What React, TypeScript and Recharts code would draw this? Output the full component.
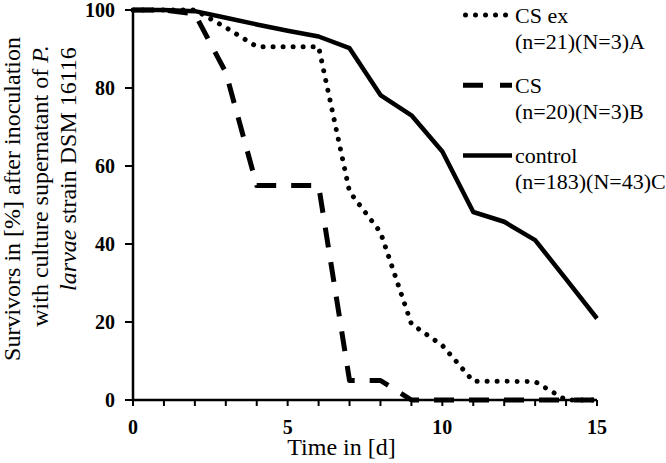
import React from 'react';
import { LineChart, Line, XAxis, YAxis, Legend } from 'recharts';

const days = [0, 1, 2, 3, 4, 5, 6, 7, 8, 9, 10, 11, 12, 13, 14, 15];
const csExValues = [100, 100, 100, 95.5, 90.6, 90.6, 90.6, 53.4, 43, 19.5, 14, 4.8, 4.8, 4.7, 0, 0];
const csValues = [100, 100, 99, 84, 55, 55, 55, 5, 5, 0, 0, 0, 0, 0, 0, 0];
const controlValues = [100, 100, 99.7, 98, 96.3, 94.7, 93.2, 90.2, 78.2, 73, 63.7, 48.2, 45.7, 41, 31, 20.9];

const seriesKeys = ['csEx', 'cs', 'control'];
const seriesNames = ['CS ex', 'CS', 'control'];
const seriesNotes = ['(n=21)(N=3)A', '(n=20)(N=3)B', '(n=183)(N=43)C'];

const xTicks = [0, 1, 2, 3, 4, 5, 6, 7, 8, 9, 10, 11, 12, 13, 14, 15];
const xLabelTicks = [0, 5, 10, 15];
const yTicks = [0, 20, 40, 60, 80, 100];

const data = days.map((d, i) => ({
  day: d,
  csEx: csExValues[i],
  cs: csValues[i],
  control: controlValues[i],
}));

const FONT = 'Liberation Serif';

const lineStyles: Record<string, { dash?: string; legendDash?: string; width: number; cap: 'round' | 'butt' }> = {
  csEx: { dash: '0.01 10', legendDash: '0.01 10', width: 5, cap: 'round' },
  cs: { dash: '20 15', legendDash: '20 17', width: 5, cap: 'butt' },
  control: { dash: undefined, legendDash: undefined, width: 4.5, cap: 'butt' },
};

const txt = (size: number, extra: React.CSSProperties = {}): React.CSSProperties => ({
  fontFamily: FONT,
  fontSize: size,
  ...extra,
});

const YTitle = () => (
  <g fill="#000">
    <text x={19.5} y={199} textAnchor="middle" transform="rotate(-90, 19.5, 199)" style={txt(24)}>
      Survivors in [%] after inoculation
    </text>
    <text x={47.5} y={186} textAnchor="middle" transform="rotate(-90, 47.5, 186)" style={txt(24)}>
      with culture supernatant of <tspan style={{ fontStyle: 'italic' }}>P.</tspan>
    </text>
    <text x={76} y={169} textAnchor="middle" transform="rotate(-90, 76, 169)" style={txt(24)}>
      <tspan style={{ fontStyle: 'italic' }}>larvae</tspan> strain DSM 16116
    </text>
  </g>
);

const XTitle = () => (
  <text x={341.5} y={455} textAnchor="middle" fill="#000" style={txt(24)}>
    Time in [d]
  </text>
);

const renderLegend = (props: any) => {
  const payload: any[] = props.payload || [];
  return (
    <svg width={211} height={200} style={{ display: 'block', overflow: 'visible' }}>
      {payload.map((entry: any) => {
        const key = String(entry.dataKey);
        const idx = seriesKeys.indexOf(key);
        const st = lineStyles[key];
        const base = 22.7 + idx * 70.2;
        const ly = base - 7.7;
        const isDot = key === 'csEx';
        return (
          <g key={key}>
            <line
              x1={isDot ? 10.5 : 8}
              x2={isDot ? 51 : 57}
              y1={ly}
              y2={ly}
              stroke="#000"
              strokeWidth={st.width}
              strokeDasharray={st.legendDash}
              strokeLinecap={st.cap}
            />
            <text x={60} y={base} fill="#000" style={txt(22)}>
              {seriesNames[idx]}
            </text>
            <text x={60} y={base + 26} fill="#000" style={txt(22)}>
              {seriesNotes[idx]}
            </text>
          </g>
        );
      })}
    </svg>
  );
};

const AxisTick = (props: any) => {
  const { x, y, payload, textAnchor, orientation } = props;
  const v = payload.value;
  if (orientation === 'bottom' && !xLabelTicks.includes(v)) return null;
  const dy = orientation === 'bottom' ? 14.5 : 7;
  return (
    <text x={x} y={y + dy} textAnchor={textAnchor} fill="#000" style={txt(20, { fontWeight: 'bold' })}>
      {String(v)}
    </text>
  );
};

export default function App() {
  return (
    <div style={{ position: 'absolute', left: 0, top: 0, width: 666, height: 463, background: '#fff' }}>
      <LineChart width={666} height={463} data={data} margin={{ top: 10, right: 69, bottom: 0, left: 0 }}>
        <XAxis
          dataKey="day"
          type="number"
          domain={[0, 15]}
          ticks={xTicks}
          interval={0}
          height={63}
          tickSize={6}
          tickMargin={13}
          tick={<AxisTick orientation="bottom" />}
          axisLine={{ stroke: '#000', strokeWidth: 2.5 }}
          tickLine={{ stroke: '#000', strokeWidth: 2 }}
          label={<XTitle />}
        />
        <YAxis
          type="number"
          domain={[0, 100]}
          ticks={yTicks}
          interval={0}
          width={133}
          tickSize={8}
          tickMargin={10}
          tick={<AxisTick orientation="left" />}
          axisLine={{ stroke: '#000', strokeWidth: 2.5 }}
          tickLine={{ stroke: '#000', strokeWidth: 2 }}
          label={<YTitle />}
        />
        <Legend
          layout="vertical"
          align="center"
          verticalAlign="middle"
          content={renderLegend}
          wrapperStyle={{ left: 455, top: 0, width: 211, height: 200 }}
        />
        {seriesKeys.map((k, i) => (
          <Line
            key={k}
            dataKey={k}
            name={seriesNames[i]}
            type="linear"
            stroke="#000"
            strokeWidth={lineStyles[k].width}
            strokeDasharray={lineStyles[k].dash}
            strokeLinecap={lineStyles[k].cap}
            strokeLinejoin="round"
            dot={false}
            activeDot={false}
            isAnimationActive={false}
          />
        ))}
      </LineChart>
    </div>
  );
}
